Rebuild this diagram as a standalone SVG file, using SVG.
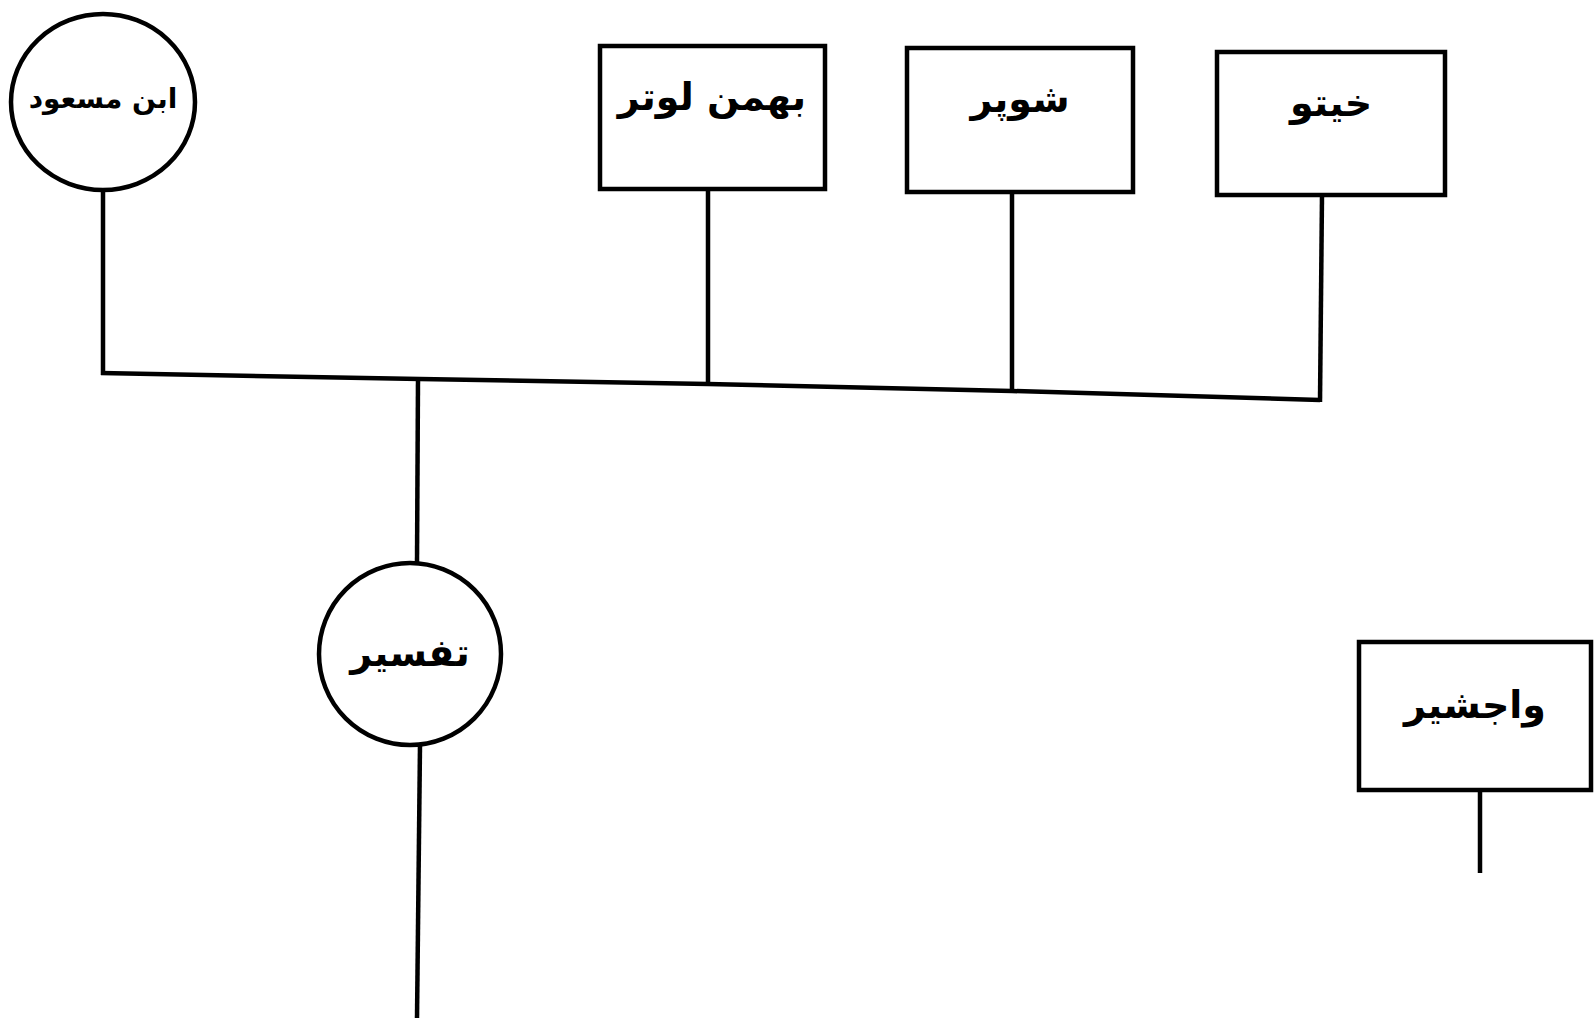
<svg xmlns="http://www.w3.org/2000/svg" width="1594" height="1027" viewBox="0 0 1594 1027">
<style>
.n{fill:#fff;stroke:#000;stroke-width:4.5}
.c{fill:none;stroke:#000;stroke-width:4.5;stroke-linecap:butt;stroke-linejoin:miter}
.t{font-family:"DejaVu Sans","Noto Sans",sans-serif;font-size:38px;font-weight:bold;fill:#000;text-anchor:middle;direction:rtl}
.s{font-size:28px}
</style>
<rect width="1594" height="1027" fill="#fff"/>
<g id="connectors">
<polyline class="c" points="101,373 420,379 708,384 1012,391 1320,400"/>
<line class="c" x1="103" y1="191" x2="103" y2="375"/>
<line class="c" x1="708" y1="189" x2="708" y2="384"/>
<line class="c" x1="1012" y1="192" x2="1012" y2="391"/>
<line class="c" x1="1322" y1="195" x2="1320" y2="402"/>
<line class="c" x1="418" y1="379" x2="417" y2="563"/>
<line class="c" x1="420" y1="745" x2="417" y2="1018"/>
<line class="c" x1="1480" y1="790" x2="1480" y2="873"/>
</g>
<g id="node-circle-top">
<ellipse class="n" cx="103" cy="102" rx="92" ry="88"/>
<text class="t s" x="103" y="108">ابن مسعود</text>
</g>
<g id="node-box-2">
<rect class="n" x="600" y="46" width="225" height="143"/>
<text class="t" x="712" y="110">بهمن لوتر</text>
</g>
<g id="node-box-3">
<rect class="n" x="907" y="48" width="226" height="144"/>
<text class="t" x="1020" y="112">شوپر</text>
</g>
<g id="node-box-4">
<rect class="n" x="1217" y="52" width="228" height="143"/>
<text class="t" x="1331" y="116">خیتو</text>
</g>
<g id="node-circle-child">
<circle class="n" cx="410" cy="654" r="91"/>
<text class="t" x="410" y="666">تفسیر</text>
</g>
<g id="node-box-5">
<rect class="n" x="1359" y="642" width="232" height="148"/>
<text class="t" x="1475" y="718">واجشیر</text>
</g>
</svg>
